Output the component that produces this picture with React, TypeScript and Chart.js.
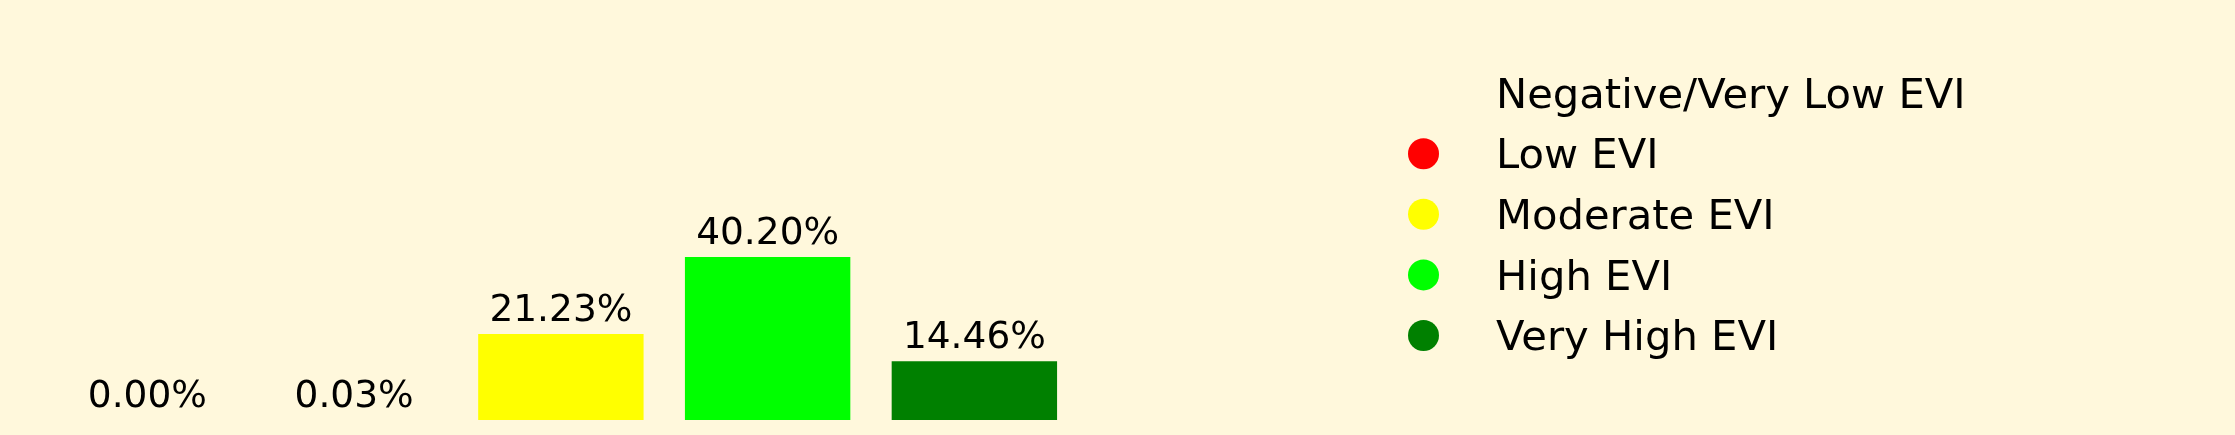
import React, { useEffect, useRef } from "react";
import { Chart, registerables } from "chart.js";

Chart.register(...registerables);

const categories = ["Negative/Very Low EVI", "Low EVI", "Moderate EVI", "High EVI", "Very High EVI"];
const percentages = [0.0, 0.03, 21.23, 40.2, 14.46];
const barColors = ["rgba(0,0,0,0)", "#FF0000", "#FFFF00", "#00FF00", "#008000"];

const BG = "#FFF8DC";
const LABEL_FONT = "37.5px 'DejaVu Sans'";
const LEGEND_FONT = "41.7px 'DejaVu Sans'";

const valueLabels = {
  id: "valueLabels",
  afterDatasetsDraw(chart: any) {
    const ctx = chart.ctx;
    const meta = chart.getDatasetMeta(0);
    ctx.save();
    ctx.font = LABEL_FONT;
    ctx.fillStyle = "#000000";
    ctx.textAlign = "center";
    ctx.textBaseline = "alphabetic";
    meta.data.forEach((bar: any, i: number) => {
      ctx.fillText(percentages[i].toFixed(2) + "%", bar.x, bar.y - 13);
    });
    ctx.restore();
  },
};

const sideLegend = {
  id: "sideLegend",
  afterDraw(chart: any) {
    const ctx = chart.ctx;
    ctx.save();
    ctx.font = LEGEND_FONT;
    ctx.textAlign = "left";
    ctx.textBaseline = "alphabetic";
    categories.forEach((label, i) => {
      const baseline = 107.8 + i * 60.6;
      ctx.beginPath();
      ctx.fillStyle = barColors[i];
      ctx.arc(1423.5, baseline - 14.7, 15.5, 0, Math.PI * 2);
      ctx.fill();
      ctx.fillStyle = "#000000";
      ctx.fillText(label, 1496, baseline);
    });
    ctx.restore();
  },
};

export default function App() {
  const canvasRef = useRef<HTMLCanvasElement | null>(null);

  useEffect(() => {
    document.body.style.margin = "0";
    document.body.style.background = BG;
    const canvas = canvasRef.current;
    if (!canvas) return;
    const chart = new Chart(canvas, {
      type: "bar",
      data: {
        labels: categories,
        datasets: [
          {
            data: percentages,
            backgroundColor: barColors,
            borderWidth: 0,
            categoryPercentage: 1.0,
            barPercentage: 0.8,
          },
        ],
      },
      options: {
        responsive: false,
        animation: false,
        devicePixelRatio: 1,
        layout: {
          padding: { left: 44, right: 1157.25, top: 249.7, bottom: 15 },
        },
        scales: {
          x: { display: false, grid: { display: false } },
          y: { display: false, min: 0, max: 42, grid: { display: false } },
        },
        plugins: {
          legend: { display: false },
          tooltip: { enabled: false },
          title: { display: false },
        },
      },
      plugins: [valueLabels, sideLegend],
    });
    return () => chart.destroy();
  }, []);

  return (
    <div style={{ position: "fixed", left: 0, top: 0, width: 2235, height: 435, background: BG }}>
      <canvas ref={canvasRef} width={2235} height={435} style={{ display: "block", width: 2235, height: 435 }} />
    </div>
  );
}
